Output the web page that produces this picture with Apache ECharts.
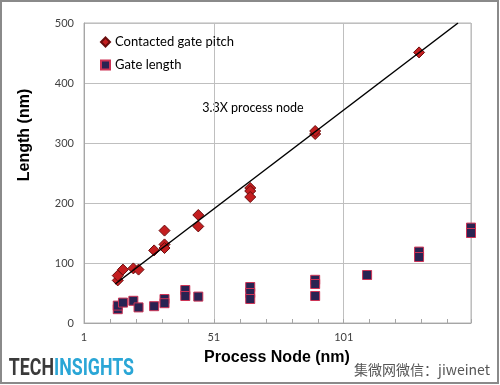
<!DOCTYPE html>
<html><head><meta charset="utf-8">
<script src="https://cdn.jsdelivr.net/npm/echarts@6/dist/echarts.min.js"></script>
<style>html,body{margin:0;padding:0;background:#fff}#c{width:500px;height:385px}</style>
</head><body><div id="c"></div>
<script>
// Contacted gate pitch
const pitchNodes  = [14, 14, 16, 20, 22, 28, 32, 32, 32, 45, 45, 65, 65, 65, 90, 90, 130];
const pitchValues = [71, 79, 89, 91, 89, 121, 154, 131, 125, 180, 161, 225, 220, 210, 315, 320, 451];
// Gate length
const gateNodes  = [14, 14, 16, 20, 22, 28, 32, 32, 40, 40, 45, 65, 65, 65, 90, 90, 90, 110, 130, 130, 150, 150];
const gateValues = [23, 29, 34, 37, 26, 28, 40, 33, 55, 45, 44, 60, 50, 40, 72, 65, 45, 80, 119, 110, 159, 150];
// 3.3X trend line endpoints
const trendX = [13, 145];
const trendY = [65, 500];
// axis ticks
const xMin = 1, xMax = 150, xStep = 50;
const yMin = 0, yMax = 500, yStep = 100;

const pair = (xs, ys) => xs.map((x, i) => [x, ys[i]]);
const chart = echarts.init(document.getElementById('c'), null, {renderer: 'canvas'});
chart.setOption({
  animation: false,
  backgroundColor: '#fff',
  grid: {left: 84, right: 29, top: 23, bottom: 62, show: true, borderColor: '#b5b5b5', borderWidth: 1, containLabel: false, outerBoundsMode: 'none'},
  xAxis: {
    type: 'value', min: xMin, max: xMax, interval: xStep,
    axisLine: {show: true, onZero: false, lineStyle: {color: '#a6a6a6'}},
    axisTick: {show: true, inside: true, length: 4, lineStyle: {color: '#a6a6a6'}},
    minorTick: {show: true, splitNumber: 5, length: 4, lineStyle: {color: '#a6a6a6'}},
    splitLine: {show: true, lineStyle: {color: '#bfbfbf'}},
    axisLabel: {showMaxLabel: false, color: '#404040', fontFamily: 'Lato', fontSize: 11, margin: 9}
  },
  yAxis: {
    type: 'value', min: yMin, max: yMax, interval: yStep,
    axisLine: {show: true, lineStyle: {color: '#a6a6a6'}},
    axisTick: {show: false},
    splitLine: {show: true, lineStyle: {color: '#bfbfbf'}},
    axisLabel: {color: '#404040', fontFamily: 'Lato', fontSize: 11, margin: 10}
  },
  legend: {
    orient: 'vertical', left: 100, top: 35, itemWidth: 9, itemHeight: 9, itemGap: 9, padding: 0,
    textStyle: {fontFamily: 'Lato', fontSize: 13, color: '#000', lineHeight: 14},
    data: ['Contacted gate pitch', 'Gate length']
  },
  series: [
    {name: 'Gate length', type: 'scatter', symbol: 'rect', symbolSize: 9,
     itemStyle: {color: '#282352', borderColor: '#cc3355', borderWidth: 1, opacity: 1},
     data: pair(gateNodes, gateValues)},
    {name: 'Contacted gate pitch', type: 'scatter', symbol: 'diamond', symbolSize: 11,
     itemStyle: {color: '#c41e20', borderColor: '#6a0d0d', borderWidth: 1, opacity: 1},
     data: pair(pitchNodes, pitchValues)},
    {name: 'trend', type: 'line', symbol: 'none', silent: true, z: 5,
     lineStyle: {color: '#000', width: 1.5},
     data: pair(trendX, trendY)}
  ],
  graphic: [
    {type: 'rect', shape: {x: 1, y: 1, width: 497, height: 382}, style: {fill: 'none', stroke: '#8a8a8a', lineWidth: 2}, silent: true},
    {type: 'text', x: 25, y: 135, rotation: Math.PI / 2,
     style: {text: 'Length (nm)', font: 'bold 16px "Liberation Sans"', fill: '#000', align: 'center', verticalAlign: 'middle'}},
    {type: 'text', x: 277, y: 358,
     style: {text: 'Process Node (nm)', font: 'bold 16px "Liberation Sans"', fill: '#000', align: 'center', verticalAlign: 'middle'}},
    {type: 'text', x: 253, y: 108,
     style: {text: '3.3X process node', font: '12.5px Lato', fill: '#000', align: 'center', verticalAlign: 'middle'}},
    {type: 'text', x: 7, y: 369, scaleX: 0.74, originX: 7, originY: 369,
     style: {text: '{a|TECH}{b|INSIGHTS}', verticalAlign: 'middle', align: 'left',
       rich: {a: {font: 'bold 24px Roboto', fill: '#3a3a3a'}, b: {font: 'bold 24px Roboto', fill: '#2aa6d6'}}}},
    {type: 'text', x: 490, y: 370,
     style: {text: '集微网微信：jiweinet', font: '14px "Noto Sans CJK SC"', fill: '#555', align: 'right', verticalAlign: 'middle'}}
  ]
});
</script></body></html>
